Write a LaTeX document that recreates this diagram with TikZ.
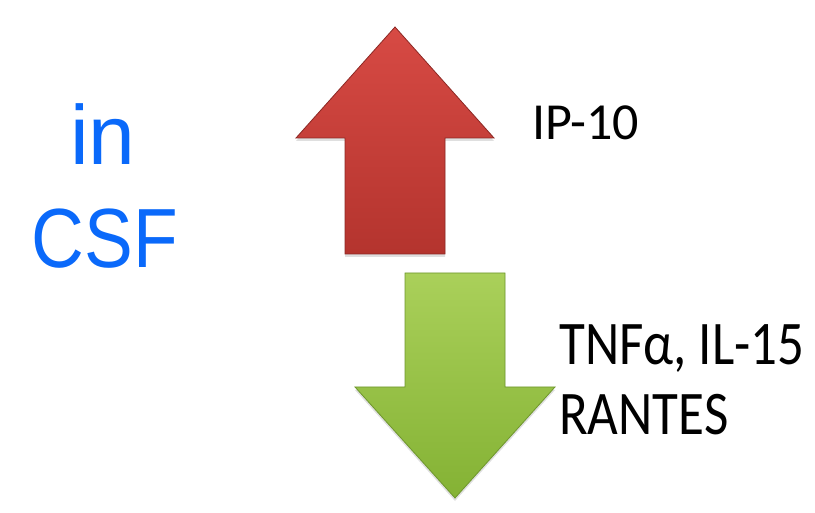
\documentclass[tikz,border=0pt]{standalone}
\usepackage{fontspec}
\setmainfont{Liberation Sans}
\newfontfamily\calfont{Carlito}
\usetikzlibrary{shadows}
\definecolor{csfblue}{RGB}{10,105,250}
\definecolor{redtop}{RGB}{215,74,68}
\definecolor{redbot}{RGB}{180,52,46}
\definecolor{rededge}{RGB}{140,40,36}
\definecolor{greentop}{RGB}{170,208,90}
\definecolor{greenbot}{RGB}{132,178,52}
\definecolor{greenedge}{RGB}{110,150,45}
\tikzset{
  uparrowshape/.style={top color=redtop, bottom color=redbot, draw=rededge, line width=0.8pt, line join=miter,
    drop shadow={shadow xshift=0pt, shadow yshift=-3pt, opacity=0.25}},
  downarrowshape/.style={top color=greentop, bottom color=greenbot, draw=greenedge, line width=0.8pt, line join=miter,
    drop shadow={shadow xshift=0pt, shadow yshift=-3pt, opacity=0.25}},
  bluetext/.style={text=csfblue, font=\fontsize{84}{100}\selectfont, inner sep=0pt},
  blacktext/.style={text=black, inner sep=0pt, anchor=base west}
}
\begin{document}
\begin{tikzpicture}[x=1pt,y=-1pt]
\useasboundingbox (0,0) rectangle (815,513);
% red up arrow
\path[uparrowshape] (395,27) -- (494,138) -- (445,138) -- (445,254) -- (345,254) -- (345,138) -- (296,138) -- cycle;
% green down arrow
\path[downarrowshape] (405,273) -- (505,273) -- (505,387) -- (555,387) -- (455,498) -- (355,387) -- (405,387) -- cycle;
% left text
\node[bluetext, anchor=base] (in) at (103,165) {in};
\node[bluetext, anchor=base] (csf) at (105,268) {\scalebox{0.87}[1]{CSF}};
% right labels
\node[blacktext, font=\calfont\fontsize{52}{60}\selectfont] (ip) at (532,140) {IP-10};
\node[blacktext, font=\calfont\fontsize{53}{60}\selectfont] (tnf) at (559,365) {\scalebox{1}[1.17]{TNFα, IL-15}};
\node[blacktext, font=\calfont\fontsize{53}{60}\selectfont] (rantes) at (559,435) {\scalebox{1}[1.17]{RANTES}};
\end{tikzpicture}
\end{document}
